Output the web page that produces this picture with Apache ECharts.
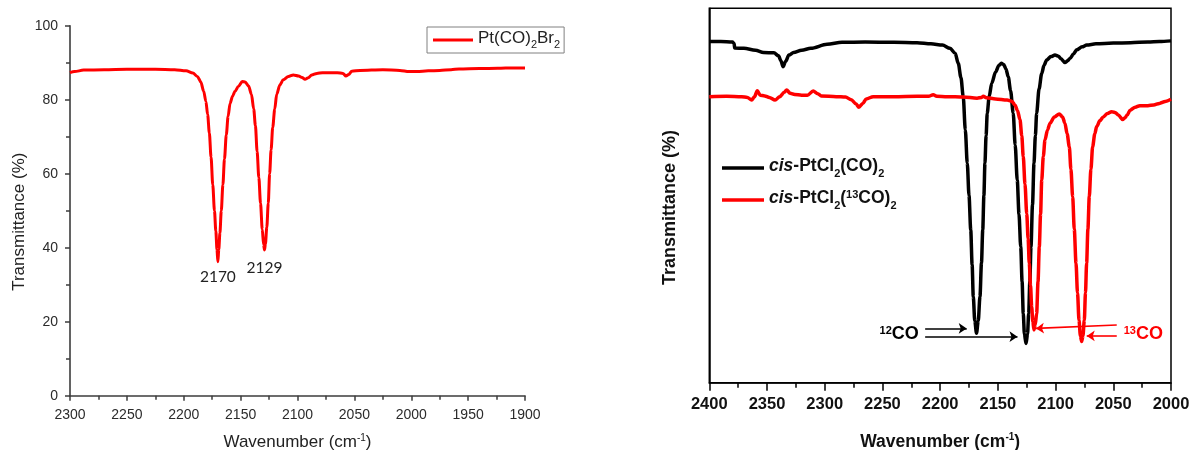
<!DOCTYPE html>
<html>
<head>
<meta charset="utf-8">
<script src="https://cdn.jsdelivr.net/npm/echarts@6/dist/echarts.min.js"></script>
<style>
  html, body { margin: 0; padding: 0; background: #fff; }
  #chart { width: 1194px; height: 450px; }
</style>
</head>
<body>
<div id="chart"></div>
<script>
// IR spectra in the carbonyl region: [wavenumber (cm-1), transmittance]

// Pt(CO)2Br2, transmittance in %
const brSpectrum = [
  [2300,87.3],[2296,87.6],[2288,88.0],[2270,88.1],[2250,88.2],[2225,88.2],[2208,88.1],
  [2198,87.8],[2192,87.2],[2188,86.3],[2185,84.8],[2182.5,82.3],[2180.5,79.5],[2179,76],
  [2177.5,71],[2176,64.5],[2174.5,57],[2173,50],[2171.8,44.5],[2170.8,39.5],[2170,36.2],
  [2169.2,39.5],[2168.2,44],[2167,50],[2165.6,57],[2164.2,64],[2162.6,70.5],[2161,75.5],
  [2159.3,79],[2157,81],[2154.9,82.3],[2152,83.6],[2148.5,84.9],[2146,84.8],[2143,83.7],
  [2140.5,81.5],[2138.5,77.5],[2137,73],[2135.5,66],[2134,59],[2132.5,52],[2131,45],
  [2129.8,40.8],[2129,39.4],[2128.2,41],[2127,45.5],[2125.7,52],[2124.5,60],[2123.2,66.5],
  [2121.8,72.5],[2120,77.5],[2118.3,81.5],[2115.5,84],[2112.5,85.4],[2108,86.3],[2103.7,86.7],
  [2099,86.4],[2096,86],[2093.4,85.5],[2090.5,85.9],[2087.5,86.7],[2083,87.1],[2078,87.3],
  [2065,87.3],[2060,87.1],[2057.4,86.4],[2055,86.8],[2052.3,87.7],[2045,87.9],[2025,88.1],
  [2010,87.9],[2002,87.6],[1995,87.6],[1985,87.8],[1975,87.9],[1965,88.1],[1958,88.3],
  [1940,88.4],[1924,88.5],[1910,88.6],[1900,88.6]
];
// Labelled band minima of Pt(CO)2Br2
const brPeaks = [2170, 2129];

// cis-PtCl2(CO)2, arbitrary transmittance scale 0-100
const clSpectrum = [
  [2400,91.1],[2390,91.1],[2380,91.0],[2378.5,90.6],[2378,89.4],[2370,89.3],[2360,88.8],
  [2353,88.2],[2344,88.1],[2340,87.3],[2338,86],[2336,84.4],[2334,85.8],[2331,87.5],
  [2327,88.2],[2320,88.8],[2312,89.3],[2298,90.4],[2285,90.9],[2265,91.0],[2240,90.9],
  [2220,90.8],[2208,90.5],[2198,90.2],[2191.5,89.3],[2187,88],[2184.3,85.3],[2182,81.5],
  [2180,76.4],[2178.2,67.5],[2176.5,58.6],[2175,50],[2173.5,40.8],[2172.3,31.5],[2171.3,23],
  [2170,16.5],[2168.5,13.2],[2167,16.5],[2165.5,23],[2164.2,32],[2163.1,40.8],[2162.1,50],
  [2161.2,58.6],[2160.2,66],[2159.2,72],[2157.5,76.5],[2155.3,80],[2152,83],[2149,84.8],
  [2147,85.3],[2145,85],[2143,83.8],[2141,81.7],[2139,78],[2136.7,72],[2135,63.5],
  [2133.2,54.1],[2131.7,45],[2130.2,36.3],[2129,27],[2128,18.5],[2127,13],[2125.6,10.5],
  [2124.3,13],[2123.3,18.5],[2122.3,27],[2121.3,36.3],[2120,47.5],[2118.7,58.6],[2117.5,66],
  [2116.4,72],[2114.3,78.5],[2112,82.6],[2110,84.8],[2107.7,86.2],[2104,87.1],[2100.5,87.5],
  [2097.5,87.2],[2095.6,86.6],[2091.9,85.5],[2089.5,86],[2087.5,86.6],[2084.5,87.8],
  [2081.7,88.9],[2077,89.7],[2073,90.2],[2065,90.5],[2050,90.7],[2035,90.8],[2020,91.0],
  [2010,91.1],[2000,91.3]
];

// cis-PtCl2(13CO)2, same arbitrary scale
const cl13Spectrum = [
  [2400,76.4],[2385,76.5],[2372,76.4],[2367,76.2],[2363.3,75.5],[2361,76.3],[2358.4,78],
  [2356,76.8],[2352,76.6],[2348,76.2],[2343,75.5],[2339,76.4],[2335,77.6],[2333,78.2],
  [2330,77.3],[2326,77],[2320,76.8],[2315,76.8],[2310,77.9],[2306,77.2],[2303,76.6],
  [2290,76.4],[2282,76.3],[2277,75.6],[2273,74.5],[2270.4,73.6],[2267,74.6],[2264,75.8],
  [2258,76.4],[2240,76.4],[2220,76.5],[2210,76.5],[2206,76.9],[2203,76.5],[2194,76.4],
  [2180,76.3],[2168,76],[2164,76.2],[2162.6,76.5],[2160,76.1],[2152,75.8],[2142,75.5],
  [2138,75.2],[2135.2,74.2],[2133,72.7],[2130.8,70.2],[2129.3,66],[2128,60.4],[2126.5,53],
  [2125,45.2],[2123.8,38.5],[2122.8,31.9],[2121.7,26],[2120.7,20.3],[2119.7,16.3],
  [2118.7,14.1],[2117.6,15.5],[2116.4,18.5],[2115.2,27],[2114.1,36.3],[2113,45],[2112,54.1],
  [2110.6,60.5],[2109.2,64.8],[2107,67.5],[2104.8,69.3],[2101,71],[2096.8,71.8],[2094,71],
  [2091.9,69.3],[2090,66.5],[2088.1,63],[2086.7,57],[2085.2,49.7],[2083.8,41],[2082.3,31.9],
  [2081,24],[2079.7,16.7],[2078.5,12.5],[2077.4,11],[2076.3,12.5],[2075.1,16.7],[2074.1,24],
  [2073.1,31.9],[2072,41],[2070.8,49.7],[2069.4,57],[2067.9,63],[2066,66.5],[2064.4,68.4],
  [2061.5,70],[2058.7,71],[2055,71.9],[2051.4,72.4],[2048,72.1],[2045.7,71.5],[2041.9,70.3],
  [2040,70.7],[2037.9,71.5],[2035.5,72.8],[2031,73.6],[2027,74],[2020,74],[2015,74.2],
  [2010,74.6],[2005,75.1],[2000,75.7]
];

// Arrows pointing at the 12CO and 13CO bands: [from, to] in data units
const arrows12 = [
  [[2213, 14.5], [2177, 14.5]],
  [[2213, 12.3], [2133, 12.3]]
];
const arrows13 = [
  [[2047, 15.4], [2117, 14.5]],
  [[2047, 12.5], [2073, 12.5]]
];
// Positions of the isotope captions
const caption12 = [2235.5, 12.5];
const caption13 = [2024, 12.5];

const plainFont = '"Liberation Sans", Arial, sans-serif';
const peakFont = 'Lato, "Open Sans", sans-serif';
const RED = '#ff0000';

const peakPoints = brPeaks.map(w => {
  const p = brSpectrum.find(d => d[0] === w);
  return { coord: [p[0], p[1]], value: p[0] };
});

const legendNames = {
  'Pt(CO)2Br2': '{n|Pt(CO)}{sub|2}{n|Br}{sub|2}',
  'cis-PtCl2(CO)2': '{i|cis}{n|-PtCl}{sub|2}{n|(CO)}{sub|2}',
  'cis-PtCl2(13CO)2': '{i|cis}{n|-PtCl}{sub|2}{n|(}{sup|13}{n|CO)}{sub|2}'
};

const plainNumber = v => String(v);

function captionRich(color) {
  return {
    s: { fontSize: 11, lineHeight: 11, verticalAlign: 'top', fontWeight: 'bold', fontFamily: plainFont, color: color },
    b: { fontSize: 18, lineHeight: 21, verticalAlign: 'top', fontWeight: 'bold', fontFamily: plainFont, color: color }
  };
}

const chart = echarts.init(document.getElementById('chart'), null, { renderer: 'canvas' });

chart.setOption({
  animation: false,
  backgroundColor: '#fff',
  grid: [
    { left: 70, top: 25.7, width: 455, height: 370, outerBoundsMode: 'none', containLabel: false },
    { left: 709.3, top: 8.3, width: 461.7, height: 374.4, show: true,
      borderColor: '#000', borderWidth: 1.5, backgroundColor: 'transparent',
      outerBoundsMode: 'none', containLabel: false }
  ],
  legend: [
    {
      data: ['Pt(CO)2Br2'],
      left: 427, top: 27,
      padding: [3, 4, 3, 6],
      borderColor: '#808080', borderWidth: 1,
      icon: 'rect',
      itemWidth: 40, itemHeight: 3, itemGap: 5,
      formatter: n => legendNames[n],
      textStyle: {
        fontFamily: plainFont, color: '#222',
        rich: {
          n: { fontSize: 17, lineHeight: 20, verticalAlign: 'top', fontFamily: plainFont, color: '#222' },
          sub: { fontSize: 11, lineHeight: 11, verticalAlign: 'bottom', fontFamily: plainFont, color: '#222' }
        }
      }
    },
    {
      data: ['cis-PtCl2(CO)2', 'cis-PtCl2(13CO)2'],
      orient: 'vertical',
      left: 722, top: 157,
      padding: 0,
      icon: 'rect',
      itemWidth: 42, itemHeight: 3.5, itemGap: 10,
      formatter: n => legendNames[n],
      textStyle: {
        fontFamily: plainFont, color: '#111',
        rich: {
          i: { fontSize: 17.5, lineHeight: 22, verticalAlign: 'top', fontWeight: 'bold', fontStyle: 'italic', fontFamily: plainFont, color: '#111' },
          n: { fontSize: 17.5, lineHeight: 22, verticalAlign: 'top', fontWeight: 'bold', fontFamily: plainFont, color: '#111' },
          sub: { fontSize: 11, lineHeight: 11, verticalAlign: 'bottom', fontWeight: 'bold', fontFamily: plainFont, color: '#111' },
          sup: { fontSize: 11, lineHeight: 11, verticalAlign: 'top', fontWeight: 'bold', fontFamily: plainFont, color: '#111' }
        }
      }
    }
  ],
  xAxis: [
    {
      gridIndex: 0, type: 'value', min: 1900, max: 2300, interval: 50, inverse: true,
      name: '{t|Wavenumber (cm}{s|-1}{t|)}', nameLocation: 'middle', nameGap: 38,
      nameTextStyle: {
        rich: {
          t: { fontSize: 17, lineHeight: 20, verticalAlign: 'top', fontFamily: plainFont, color: '#222' },
          s: { fontSize: 10, lineHeight: 10, verticalAlign: 'top', fontFamily: plainFont, color: '#222' }
        }
      },
      axisLine: { onZero: false, lineStyle: { color: '#3c3c3c', width: 1.6 } },
      axisTick: { inside: false, length: 5, lineStyle: { color: '#3c3c3c', width: 1.5 } },
      minorTick: { show: true, splitNumber: 2, length: 4, lineStyle: { color: '#3c3c3c', width: 1.5 } },
      axisLabel: { fontFamily: plainFont, fontSize: 14, color: '#2b2b2b', margin: 12, formatter: plainNumber },
      splitLine: { show: false }
    },
    {
      gridIndex: 1, type: 'value', min: 2000, max: 2400, interval: 50, inverse: true,
      name: '{t|Wavenumber (cm}{s|-1}{t|)}', nameLocation: 'middle', nameGap: 50,
      nameTextStyle: {
        rich: {
          t: { fontSize: 17.5, lineHeight: 20, verticalAlign: 'top', fontWeight: 'bold', fontFamily: plainFont, color: '#111' },
          s: { fontSize: 10, lineHeight: 10, verticalAlign: 'top', fontWeight: 'bold', fontFamily: plainFont, color: '#111' }
        }
      },
      axisLine: { onZero: false, lineStyle: { color: '#000', width: 1.5 } },
      axisTick: { inside: false, length: 8, lineStyle: { color: '#000', width: 1.5 } },
      minorTick: { show: true, splitNumber: 2, length: 5, lineStyle: { color: '#000', width: 1.5 } },
      axisLabel: { fontFamily: plainFont, fontSize: 16.5, fontWeight: 'bold', color: '#111', margin: 13, formatter: plainNumber },
      splitLine: { show: false }
    }
  ],
  yAxis: [
    {
      gridIndex: 0, type: 'value', min: 0, max: 100, interval: 20,
      name: 'Transmittance (%)', nameLocation: 'middle', nameGap: 42,
      nameTextStyle: { fontFamily: plainFont, fontSize: 17, color: '#222', padding: [0, 22, 0, 0] },
      axisLine: { show: true, onZero: false, lineStyle: { color: '#3c3c3c', width: 1.6 } },
      axisTick: { show: true, inside: false, length: 5, lineStyle: { color: '#3c3c3c', width: 1.5 } },
      minorTick: { show: true, splitNumber: 2, length: 4, lineStyle: { color: '#3c3c3c', width: 1.5 } },
      axisLabel: { fontFamily: plainFont, fontSize: 14, color: '#2b2b2b', margin: 12 },
      splitLine: { show: false }
    },
    {
      gridIndex: 1, type: 'value', min: 0, max: 100,
      name: 'Transmittance (%)', nameLocation: 'middle', nameGap: 30,
      nameTextStyle: { fontFamily: plainFont, fontSize: 18, fontWeight: 'bold', color: '#111', padding: [0, 24, 0, 0] },
      axisLine: { show: true, onZero: false, lineStyle: { color: '#000', width: 1.5 } },
      axisTick: { show: false },
      axisLabel: { show: false },
      splitLine: { show: false }
    }
  ],
  series: [
    {
      name: 'Pt(CO)2Br2', type: 'line', xAxisIndex: 0, yAxisIndex: 0,
      data: brSpectrum, symbol: 'none', smooth: 0.3, smoothMonotone: 'x',
      lineStyle: { color: RED, width: 3 }, itemStyle: { color: RED },
      markPoint: {
        silent: true, symbol: 'circle', symbolSize: 0,
        label: {
          show: true, position: 'bottom', distance: 8,
          formatter: p => String(p.value),
          fontFamily: peakFont, fontSize: 15.5, color: '#222'
        },
        data: peakPoints.map((p, i) => ({
          coord: p.coord, value: p.value,
          label: { distance: i === 0 ? 7 : 10 }
        }))
      }
    },
    {
      name: 'cis-PtCl2(CO)2', type: 'line', xAxisIndex: 1, yAxisIndex: 1,
      data: clSpectrum, symbol: 'none', smooth: 0.3, smoothMonotone: 'x',
      lineStyle: { color: '#000', width: 3.5 }, itemStyle: { color: '#000' },
      markLine: {
        silent: true, symbol: ['none', 'arrow'], symbolSize: 8,
        label: { show: false },
        lineStyle: { color: '#000', width: 1.6, type: 'solid' },
        data: arrows12.map(a => [{ coord: a[0] }, { coord: a[1] }])
      },
      markPoint: {
        silent: true, symbol: 'circle', symbolSize: 0,
        label: { show: true, position: 'inside', formatter: '{s|12}{b|CO}', rich: captionRich('#000') },
        data: [{ coord: caption12 }]
      }
    },
    {
      name: 'cis-PtCl2(13CO)2', type: 'line', xAxisIndex: 1, yAxisIndex: 1,
      data: cl13Spectrum, symbol: 'none', smooth: 0.3, smoothMonotone: 'x',
      lineStyle: { color: RED, width: 3.5 }, itemStyle: { color: RED },
      markLine: {
        silent: true, symbol: ['none', 'arrow'], symbolSize: 8,
        label: { show: false },
        lineStyle: { color: RED, width: 1.6, type: 'solid' },
        data: arrows13.map(a => [{ coord: a[0] }, { coord: a[1] }])
      },
      markPoint: {
        silent: true, symbol: 'circle', symbolSize: 0,
        label: { show: true, position: 'inside', formatter: '{s|13}{b|CO}', rich: captionRich(RED) },
        data: [{ coord: caption13 }]
      }
    }
  ]
});
</script>
</body>
</html>
